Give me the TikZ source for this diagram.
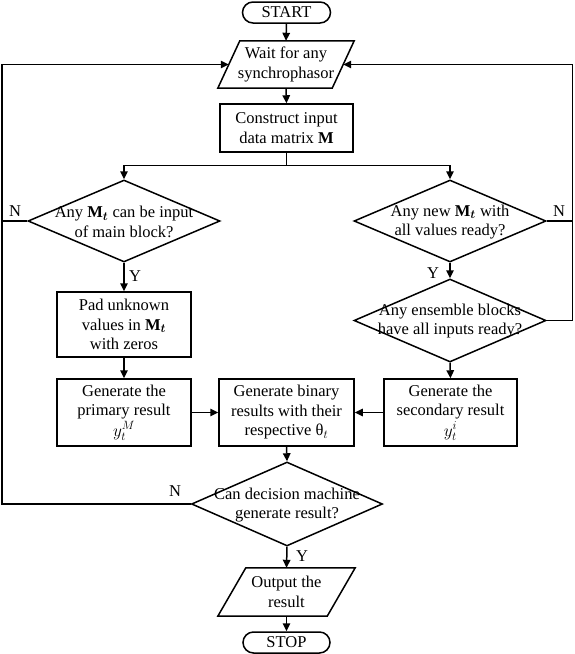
\documentclass[tikz,border=0pt]{standalone}
\usepackage{amsmath}
\usepackage{fontspec}
\setmainfont{Liberation Serif}
\usetikzlibrary{arrows.meta,shapes.geometric,calc}
\begin{document}
\begin{tikzpicture}[x=1pt,y=-1pt,
  every node/.style={font=\fontsize{16.5}{19.5}\selectfont, align=center, inner sep=0pt},
  line/.style={line width=1.5pt},
  arr/.style={line width=1.5pt,-{Triangle[length=8pt,width=7.5pt]}},
  procbox/.style={draw, line width=1.5pt, rectangle},
  termbox/.style={draw, line width=1.5pt, rectangle, rounded corners=10.5pt, minimum width=88pt, minimum height=21pt},
  iobox/.style={rectangle, minimum height=47pt},
  decbox/.style={draw, line width=1.5pt, diamond, minimum width=192pt, minimum height=82pt},
  lbl/.style={font=\fontsize{16.5}{19.5}\selectfont}
]
\useasboundingbox (0,0) rectangle (574,654);

% nodes
\node[termbox] (start) at (286.5,12.5) {START};
\node[iobox, minimum width=114pt] (wait) at (286,64.5) {Wait for any\\synchrophasor};
\draw[line, line join=miter] ($(wait.north west)+(11,0)$) -- ($(wait.north east)+(11,0)$) -- ($(wait.south east)+(-11,0)$) -- ($(wait.south west)+(-11,0)$) -- cycle;
\node[procbox, minimum width=133pt, minimum height=48pt] (con) at (286.5,128) {Construct input\\data matrix $\mathbf{M}$};
\coordinate (br) at (286.5,165.7);

\node[decbox] (d1) at (124,221) {};
\node (d1t) at (124,222) {Any $\mathbf{M}_{\boldsymbol{t}}$ can be input\\of main block?};
\node[decbox] (d2) at (450,221) {};
\node (d2t) at (450,222) {Any new $\mathbf{M}_{\boldsymbol{t}}$ with\\all values ready?};
\node[decbox, minimum height=83pt] (d3) at (450,320.5) {};
\node (d3t) at (450,321) {Any ensemble blocks\\have all inputs ready?};

\node[procbox, minimum width=134pt, minimum height=65pt] (pad) at (124,324.5) {Pad unknown\\values in $\mathbf{M}_{\boldsymbol{t}}$\\with zeros};
\node[procbox, minimum width=134pt, minimum height=67pt] (prim) at (124,412.5) {Generate the\\primary result\\[1pt]$y_t^M$};
\node[procbox, minimum width=135pt, minimum height=67pt] (bin) at (286.5,412.5) {Generate binary\\results with their\\respective θ$_t$};
\node[procbox, minimum width=133pt, minimum height=67pt] (sec) at (450.5,412.5) {Generate the\\secondary result\\[1pt]$y_t^i$};

\node[decbox, minimum width=191pt, minimum height=84pt] (dm) at (287,504) {};
\node (dmt) at (287,505) {Can decision machine\\generate result?};

\node[iobox, minimum width=109pt, minimum height=48pt] (out) at (286.5,592) {Output the\\result};
\draw[line, line join=miter] ($(out.north west)+(14,0)$) -- ($(out.north east)+(14,0)$) -- ($(out.south east)+(-14,0)$) -- ($(out.south west)+(-14,0)$) -- cycle;
\node[termbox, minimum width=87pt] (stop) at (286.5,642.5) {STOP};

\coordinate (Ltop) at (2,64.5);
\coordinate (Rtop) at (572.5,64.5);

% labels
\node[lbl] (n1) at (15,211) {N};
\node[lbl] (n2) at (559,211) {N};
\node[lbl] (n3) at (175,491.5) {N};
\node[lbl] (y1) at (135,276) {Y};
\node[lbl] (y2) at (433,273) {Y};
\node[lbl] (y3) at (302,556) {Y};

% connectors
\draw[arr] (start.south) -- (wait.north);
\draw[arr] (wait.south) -- (con.north);
\draw[line] (con.south) -- (br);
\draw[arr] (br) -| (d1.north);
\draw[arr] (br) -| (d2.north);
\draw[arr] (d1.south) -- (pad.north);
\draw[arr] (d2.south) -- (d3.north);
\draw[arr] (d3.south) -- (sec.north);
\draw[arr] (pad.south) -- (prim.north);
\draw[arr] (prim.east) -- (bin.west);
\draw[arr] (sec.west) -- (bin.east);
\draw[arr] (bin.south) -- (dm.north);
\draw[arr] (dm.south) -- (out.north);
\draw[arr] (out.south) -- (stop.north);
\draw[line] (d1.west) -- (d1.west -| Ltop);
\draw[arr] (dm.west) -| (Ltop) -- (wait.west);
\draw[line] (d2.east) -- (d2.east -| Rtop);
\draw[arr] (d3.east) -| (Rtop) -- (wait.east);
\end{tikzpicture}
\end{document}
